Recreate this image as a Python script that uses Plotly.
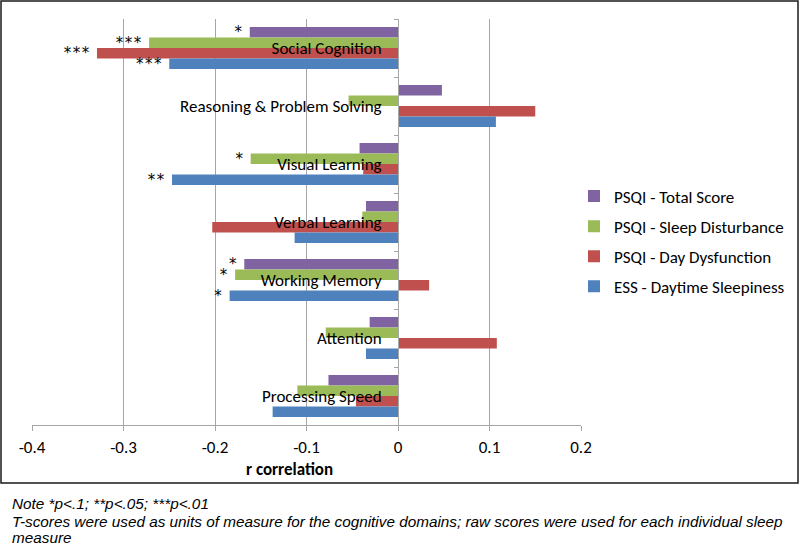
import plotly.graph_objects as go

# ---------------- data ----------------
categories = ["Social Cognition", "Reasoning & Problem Solving", "Visual Learning",
              "Verbal Learning", "Working Memory", "Attention", "Processing Speed"]

series_names = ["PSQI - Total Score", "PSQI - Sleep Disturbance",
                "PSQI - Day Dysfunction", "ESS - Daytime Sleepiness"]

total_score = [-0.162, 0.048, -0.042, -0.035, -0.168, -0.031, -0.076]
sleep_disturbance = [-0.272, -0.054, -0.161, -0.039, -0.178, -0.079, -0.110]
day_dysfunction = [-0.329, 0.150, -0.038, -0.203, 0.034, 0.108, -0.046]
daytime_sleepiness = [-0.250, 0.107, -0.247, -0.113, -0.184, -0.035, -0.137]

total_sig = ["*", "", "", "", "*", "", ""]
sleep_sig = ["***", "", "*", "", "*", "", ""]
day_sig = ["***", "", "", "", "", "", ""]
ess_sig = ["***", "", "**", "", "*", "", ""]

x_tick_vals = [-0.4, -0.3, -0.2, -0.1, 0, 0.1, 0.2]
x_tick_labels = ["-0.4", "-0.3", "-0.2", "-0.1", "0", "0.1", "0.2"]

x_title = "r correlation"
note_lines = ["Note *p<.1; **p<.05; ***p<.01",
              "T-scores were used as units of measure for the cognitive domains; raw scores were used for each individual sleep",
              "measure"]

# ---------------- styling ----------------
colors = ["#8064A2", "#9BBB59", "#C0504D", "#4F81BD"]
FONT = "Carlito, Calibri, Lato, 'Open Sans', sans-serif"
STAR_FONT = "'DejaVu Sans', sans-serif"
NOTE_FONT = "'Liberation Sans', Arial, sans-serif"
GRID = "#A6A6A6"

W, H = 800, 546
ml, mr, mt, mb = 32, 219, 19, 121
pw, ph = W - ml - mr, H - mt - mb


def px_x(p):
    return (p - ml) / pw


def px_y(p):
    return (H - mb - p) / ph


def star_label(s):
    # slightly spaced asterisks with a small gap before the bar end
    return ("\u200a".join(s) + "\u00a0") if s else ""


fig = go.Figure()
values = [total_score, sleep_disturbance, day_dysfunction, daytime_sleepiness]
sigs = [total_sig, sleep_sig, day_sig, ess_sig]
for i, (name, vals, sg) in enumerate(zip(series_names, values, sigs)):
    fig.add_trace(go.Bar(
        y=categories, x=vals, name=name, orientation="h",
        marker=dict(color=colors[i], line=dict(width=0)),
        text=[star_label(s) for s in sg], textposition="outside", constraintext="none",
        cliponaxis=False,
        textfont=dict(family=STAR_FONT, size=15, color="#000"),
        legendgroup=f"g{i}",
    ))

xmin, xmax = x_tick_vals[0], x_tick_vals[-1]
zero_pos = (0 - xmin) / (xmax - xmin)

fig.update_layout(
    width=W, height=H,
    margin=dict(l=ml, r=mr, t=mt, b=mb, autoexpand=False),
    paper_bgcolor="white", plot_bgcolor="white",
    barmode="group", bargap=0.276, bargroupgap=0,
    font=dict(family=FONT, size=17, color="#000"),
    showlegend=True,
    legend=dict(
        x=px_x(574), y=px_y(241.5), xanchor="left", yanchor="middle",
        traceorder="grouped", tracegroupgap=5,
        font=dict(family=FONT, size=17, color="#000"),
        bgcolor="rgba(0,0,0,0)",
    ),
    xaxis=dict(
        range=[xmin, xmax], tickvals=x_tick_vals, ticktext=x_tick_labels,
        showgrid=True, gridcolor=GRID, gridwidth=1,
        zeroline=False,
        showline=True, linecolor=GRID, linewidth=1,
        ticks="outside", ticklen=5, tickcolor=GRID,
        tickfont=dict(family=FONT, size=17, color="#000"),
        ticklabelstandoff=2,
        automargin=False,
    ),
    yaxis=dict(
        categoryorder="array", categoryarray=categories,
        autorange="reversed",
        anchor="free", position=zero_pos,
        showgrid=False, zeroline=False,
        showline=True, linecolor=GRID, linewidth=1,
        ticks="outside", ticklen=4, tickcolor=GRID,
        tickson="boundaries",
        tickfont=dict(family=FONT, size=17, color="#000"),
        ticklabelstandoff=13,
        automargin=False,
    ),
)

# axis title placed like the original
fig.add_annotation(
    text=f"<b>{x_title}</b>", xref="paper", yref="paper",
    x=px_x(289), y=px_y(469), xanchor="center", yanchor="middle",
    showarrow=False, font=dict(family=FONT, size=17, color="#000"),
)

# note under the chart, one annotation per line
for line, ypx in zip(note_lines, [504, 521, 537.5]):
    fig.add_annotation(
        text=f"<i>{line}</i>", xref="paper", yref="paper",
        x=px_x(10), y=px_y(ypx), xanchor="left", yanchor="middle", align="left",
        showarrow=False,
        font=dict(family=NOTE_FONT, size=15.3, color="#000"),
    )

# chart frame
fig.add_shape(
    type="rect", xref="paper", yref="paper",
    x0=px_x(1), x1=px_x(798), y0=px_y(483), y1=px_y(1),
    line=dict(color="#1a1a1a", width=1.5), fillcolor="rgba(0,0,0,0)", layer="below",
)

fig.write_html("out.html", config={"displayModeBar": False},
               post_script="document.body.style.margin='0';")
